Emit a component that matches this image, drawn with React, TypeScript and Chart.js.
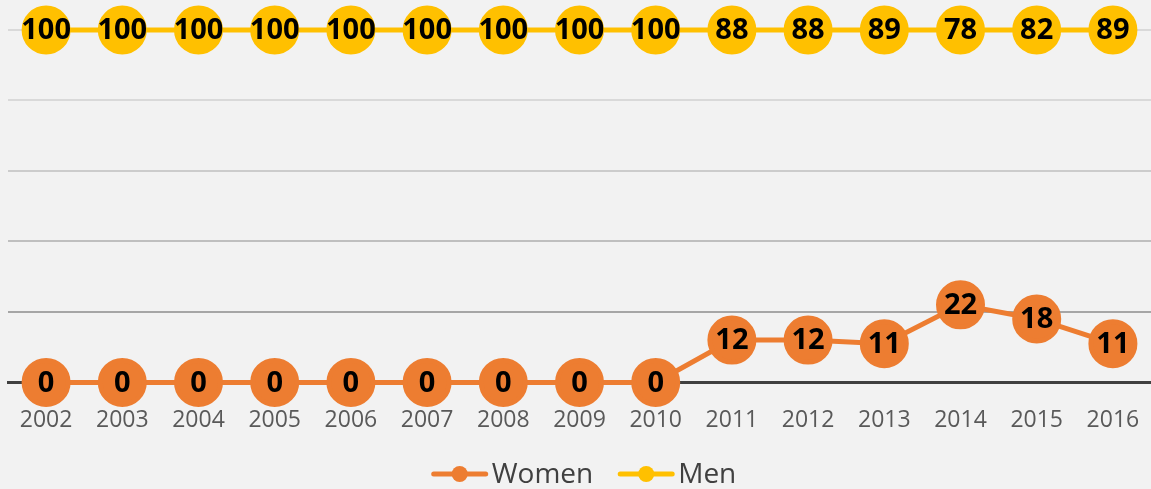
import React, { useEffect, useRef } from "react";
import { Chart, registerables } from "chart.js";
Chart.register(...registerables);

const years = ["2002", "2003", "2004", "2005", "2006", "2007", "2008", "2009", "2010", "2011", "2012", "2013", "2014", "2015", "2016"];
const women = [0, 0, 0, 0, 0, 0, 0, 0, 0, 12, 12, 11, 22, 18, 11];
const men = [100, 100, 100, 100, 100, 100, 100, 100, 100, 88, 88, 89, 78, 82, 89];
const seriesNames = ["Women", "Men"];
const yMin = 0;
const yMax = 100;
const yStep = 20;

const ORANGE = "#ED7D31";
const GOLD = "#FFC000";

const bgPlugin = {
  id: "bg",
  beforeDraw(chart: any) {
    const ctx = chart.ctx;
    ctx.save();
    ctx.fillStyle = "#F2F2F2";
    ctx.fillRect(0, 0, chart.width, chart.height);
    ctx.restore();
  },
};

const labelPlugin = {
  id: "pointLabels",
  afterDatasetsDraw(chart: any) {
    const ctx = chart.ctx;
    ctx.save();
    ctx.font = "bold 29px 'Open Sans', sans-serif";
    ctx.fillStyle = "#000000";
    ctx.textAlign = "center";
    ctx.textBaseline = "middle";
    chart.data.datasets.forEach((ds: any, i: number) => {
      const meta = chart.getDatasetMeta(i);
      meta.data.forEach((pt: any, j: number) => {
        ctx.fillText(String(ds.data[j]), pt.x, pt.y + 1);
      });
    });
    ctx.restore();
  },
};

// Bottom legend: line-with-marker swatch followed by the series name
const legendPlugin = {
  id: "lineLegend",
  afterDraw(chart: any) {
    const ctx = chart.ctx;
    const iconW = 58;
    const gapText = 3;
    const gapItem = 24;
    ctx.save();
    ctx.font = "28px 'Open Sans', sans-serif";
    const items = chart.data.datasets.map((ds: any) => ({
      label: ds.label,
      color: ds.borderColor,
      w: iconW + gapText + ctx.measureText(ds.label).width,
    }));
    const total = items.reduce((s: number, it: any) => s + it.w, 0) + gapItem * (items.length - 1);
    let x = (chart.width - total) / 2 + 8;
    const y = chart.height - 15;
    items.forEach((it: any) => {
      ctx.strokeStyle = it.color;
      ctx.fillStyle = it.color;
      ctx.lineWidth = 5;
      ctx.lineCap = "round";
      ctx.beginPath();
      ctx.moveTo(x + 3, y);
      ctx.lineTo(x + iconW - 3, y);
      ctx.stroke();
      ctx.beginPath();
      ctx.arc(x + iconW / 2, y, 8, 0, Math.PI * 2);
      ctx.fill();
      ctx.fillStyle = "#404040";
      ctx.textAlign = "left";
      ctx.textBaseline = "middle";
      ctx.fillText(it.label, x + iconW + gapText, y + 1);
      x += it.w + gapItem;
    });
    ctx.restore();
  },
};

const gridColors: Record<number, string> = { 20: "#A6A6A6", 40: "#BFBFBF", 60: "#CCCCCC", 80: "#D9D9D9", 100: "#D9D9D9" };

export default function App() {
  const ref = useRef<HTMLCanvasElement | null>(null);
  useEffect(() => {
    if (!ref.current) return;
    const chart = new Chart(ref.current, {
      type: "line",
      data: {
        labels: years,
        datasets: [
          {
            label: seriesNames[0],
            data: women,
            borderColor: ORANGE,
            backgroundColor: ORANGE,
            pointBackgroundColor: ORANGE,
            pointBorderColor: ORANGE,
            borderWidth: 5,
            pointRadius: 22,
            pointHoverRadius: 22,
            fill: false,
            tension: 0,
          },
          {
            label: seriesNames[1],
            data: men,
            borderColor: GOLD,
            backgroundColor: GOLD,
            pointBackgroundColor: GOLD,
            pointBorderColor: GOLD,
            borderWidth: 5,
            pointRadius: 22,
            pointHoverRadius: 22,
            fill: false,
            tension: 0,
          },
        ],
      },
      options: {
        animation: false,
        responsive: true,
        maintainAspectRatio: false,
        clip: false as any,
        layout: { autoPadding: false, padding: { top: 30, left: 8, right: 0, bottom: 31 } },
        scales: {
          x: {
            offset: true,
            grid: { display: false, drawTicks: false },
            border: { display: true, color: "#404040", width: 3 },
            ticks: { color: "#595959", font: { family: "'Open Sans', sans-serif", size: 23 }, padding: 24, maxRotation: 0 },
            afterFit: (scale: any) => {
              scale.paddingLeft = 0;
              scale.paddingRight = 0;
            },
          },
          y: {
            stacked: true,
            min: yMin,
            max: yMax,
            grid: {
              drawTicks: false,
              lineWidth: 2,
              color: (c: any) => gridColors[c.tick?.value] || "rgba(0,0,0,0)",
            },
            border: { display: false },
            ticks: { display: false, stepSize: yStep },
          },
        },
        plugins: {
          legend: { display: false },
          tooltip: { enabled: false },
        },
      },
      plugins: [bgPlugin, labelPlugin, legendPlugin],
    });
    return () => chart.destroy();
  }, []);
  return (
    <div style={{ position: "absolute", left: 0, top: 0, width: 1151, height: 489 }}>
      <canvas ref={ref} />
    </div>
  );
}
